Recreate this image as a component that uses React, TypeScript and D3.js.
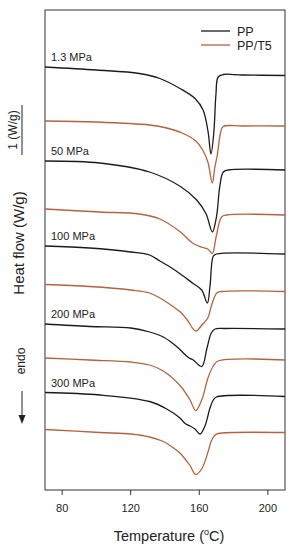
import React from "react";
import * as d3 from "d3";

// Temperature (°C), heat flow (W/g, curves offset vertically)
const PP_1_3: [number, number][] = [[70,8.46],[100,8.40],[125,8.33],[137,8.23],[148.75,8.03],[157.5,7.83],[162.2,7.60],[165.1,7.17],[166.8,6.72],[168.5,7.16],[169.7,7.90],[171,8.26],[174,8.31],[185,8.30],[210,8.29]];
const T5_1_3: [number, number][] = [[70,7.38],[100,7.36],[131,7.30],[141,7.24],[150,7.14],[158,6.98],[162,6.80],[165,6.56],[167.6,6.14],[169,6.44],[170.5,6.70],[172.5,7.16],[174,7.27],[185,7.28],[210,7.28]];
const PP_50: [number, number][] = [[70,6.58],[102,6.54],[131,6.36],[149,6.07],[158.5,5.80],[164,5.52],[167.6,5.16],[170,5.46],[172,6.08],[174,6.36],[177,6.40],[210,6.40]];
const T5_50: [number, number][] = [[70,5.62],[102,5.56],[125,5.52],[137,5.42],[149,5.16],[156,4.94],[162,4.85],[165,4.82],[167.6,4.73],[169.8,5.06],[173,5.46],[176,5.50],[210,5.50]];
const PP_100: [number, number][] = [[70,4.88],[96,4.84],[120,4.76],[131,4.70],[137,4.58],[143,4.46],[149,4.32],[156,4.14],[161.4,4.00],[164.7,3.74],[166.3,4.10],[168.2,4.68],[170,4.72],[210,4.72]];
const T5_100: [number, number][] = [[70,4.11],[96,4.07],[120,4.00],[131,3.94],[139,3.80],[145,3.66],[149,3.56],[153,3.40],[157.9,3.18],[162,3.32],[165,3.44],[167.2,3.70],[170.2,3.94],[173,3.97],[210,3.97]];
const PP_200: [number, number][] = [[70,3.32],[96,3.27],[120,3.24],[131,3.16],[139,3.06],[145,2.92],[149,2.80],[153.6,2.65],[156.5,2.60],[161.4,2.47],[164.5,2.84],[167,3.14],[169.2,3.22],[175,3.23],[210,3.22]];
const T5_200: [number, number][] = [[70,2.64],[96,2.60],[120,2.56],[131,2.50],[139,2.38],[149,2.08],[154.6,1.80],[157.9,1.59],[161.4,1.80],[165.25,2.26],[168.2,2.48],[171,2.58],[210,2.60]];
const PP_300: [number, number][] = [[70,1.95],[102,1.90],[131,1.77],[141,1.62],[148.75,1.44],[151.7,1.33],[154.6,1.28],[157.5,1.22],[160.4,1.12],[163.3,1.28],[166.25,1.64],[168.2,1.80],[170,1.86],[210,1.87]];
const T5_300: [number, number][] = [[70,1.21],[102,1.15],[120,1.12],[131,1.06],[139,0.97],[145,0.84],[149,0.73],[152.6,0.58],[154.6,0.49],[157.9,0.31],[161.4,0.42],[165.25,0.78],[167,0.98],[169.2,1.10],[171,1.13],[210,1.15]];

const ppCurves = [PP_1_3, PP_50, PP_100, PP_200, PP_300];
const t5Curves = [T5_1_3, T5_50, T5_100, T5_200, T5_300];
const pressureLabels = ["1.3 MPa", "50 MPa", "100 MPa", "200 MPa", "300 MPa"];
const xTicks = [80, 120, 160, 200];
const seriesNames = ["PP", "PP/T5"];
const scaleBarWg = 1;

const W = 298, H = 550;
const M = { left: 45, right: 285, top: 10, bottom: 490 };
const BLACK = "#1b1b1b";
const BROWN = "#b5623d";
const FONT = "'Liberation Sans', Arial, sans-serif";

export default function App() {
  const x = d3.scaleLinear().domain([70, 210]).range([M.left, M.right]);
  const y = d3.scaleLinear().domain([0, 9.6]).range([M.bottom, M.top]);
  const line = d3.line<[number, number]>().x(d => x(d[0])).y(d => y(d[1])).curve(d3.curveCatmullRom.alpha(0.5));

  const barTop = y(7.7);
  const barBot = y(7.7 - scaleBarWg);

  return (
    <svg width={W} height={H} style={{ position: "absolute", left: 0, top: 0, background: "#fff" }} fontFamily={FONT}>
      <rect x={M.left} y={M.top} width={M.right - M.left} height={M.bottom - M.top} fill="none" stroke="#333" strokeWidth={1} />
      {xTicks.map(t => (
        <g key={t}>
          <line x1={x(t)} x2={x(t)} y1={M.bottom} y2={M.bottom + 5} stroke="#333" />
          <text x={x(t)} y={512} fontSize={11} textAnchor="middle" fill="#222">{t}</text>
        </g>
      ))}
      <text x={(M.left + M.right) / 2 + 4} y={541} fontSize={14.5} textAnchor="middle" fill="#222">
        Temperature (<tspan fontSize={9} dy={-6}>o</tspan><tspan dy={6}>C)</tspan>
      </text>
      <text transform={`translate(24,243) rotate(-90)`} fontSize={15} textAnchor="middle" fill="#222">Heat flow (W/g)</text>
      <text transform={`translate(25,361) rotate(-90)`} fontSize={12} textAnchor="middle" fill="#222">endo</text>
      <line x1={22} x2={22} y1={391} y2={420} stroke="#222" strokeWidth={1} />
      <path d="M18.5,415 L22,424 L25.5,415 Z" fill="#222" />
      <line x1={22} x2={22} y1={barTop} y2={barBot} stroke="#222" strokeWidth={1} />
      <text transform={`translate(17,${(barTop + barBot) / 2}) rotate(-90)`} fontSize={12} textAnchor="middle" fill="#222">1 (W/g)</text>

      {ppCurves.map((c, i) => (
        <path key={"pp" + i} d={line(c) || ""} fill="none" stroke={BLACK} strokeWidth={1.3} />
      ))}
      {t5Curves.map((c, i) => (
        <path key={"t5" + i} d={line(c) || ""} fill="none" stroke={BROWN} strokeWidth={1.3} />
      ))}
      {pressureLabels.map((l, i) => (
        <text key={l} x={51} y={y(ppCurves[i][0][1]) - 6} fontSize={11} fill="#222">{l}</text>
      ))}
      {seriesNames.map((s, i) => (
        <g key={s}>
          <line x1={201} x2={230} y1={31 + i * 14} y2={31 + i * 14} stroke={i === 0 ? BLACK : BROWN} strokeWidth={1.3} />
          <text x={237} y={36 + i * 14} fontSize={12.5} fill="#222">{s}</text>
        </g>
      ))}
    </svg>
  );
}
